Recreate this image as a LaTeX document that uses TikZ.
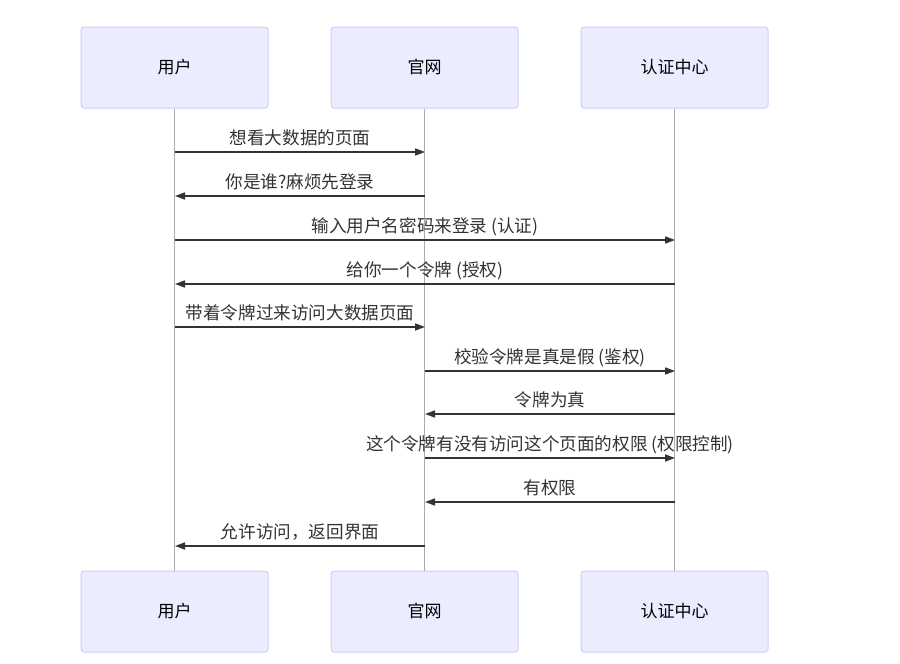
\documentclass[tikz,border=0pt]{standalone}
\usepackage{fontspec}
\setmainfont{Noto Sans CJK SC}
\usetikzlibrary{arrows.meta}
\definecolor{actfill}{HTML}{ECECFF}
\definecolor{actdraw}{HTML}{CCCCFF}
\definecolor{msgline}{HTML}{333333}
\definecolor{lifeline}{HTML}{AAAAAA}
\tikzset{
  actor/.style={draw=actdraw, fill=actfill, line width=1pt, rounded corners=3pt,
    minimum width=187pt, minimum height=81pt, inner sep=0pt, text height=14pt, text depth=3pt,
    font=\fontsize{17}{19}\selectfont, text=black},
  life/.style={draw=lifeline, line width=0.8pt},
  msg/.style={draw=msgline, line width=1.6pt, -{Triangle[length=10pt,width=7pt]}},
  lbl/.style={font=\fontsize{17.6}{19}\selectfont, text=msgline, anchor=base, inner sep=0pt}
}
\begin{document}
\begin{tikzpicture}[x=1pt,y=1pt]
\useasboundingbox (0,0) rectangle (900,-664);
% top actors
\node[actor] (u1) at (174.5,-67.5) {用户};
\node[actor] (g1) at (424.5,-67.5) {官网};
\node[actor] (a1) at (674.5,-67.5) {认证中心};
% bottom actors
\node[actor] (u2) at (174.5,-611.5) {用户};
\node[actor] (g2) at (424.5,-611.5) {官网};
\node[actor] (a2) at (674.5,-611.5) {认证中心};
% lifelines
\draw[life] (u1.south) -- (u2.north);
\draw[life] (g1.south) -- (g2.north);
\draw[life] (a1.south) -- (a2.north);
% message end coordinates
\foreach \n/\y in {1/152,2/196,3/240,4/284,5/327,6/371,7/414,8/458,9/502,10/546}{
  \coordinate (u\n) at (175,-\y);
  \coordinate (g\n) at (425,-\y);
  \coordinate (a\n) at (675,-\y);
}
\draw[msg] (u1) -- (g1) node[lbl, midway, yshift=8pt] {想看大数据的页面};
\draw[msg] (g2) -- (u2) node[lbl, midway, yshift=8pt] {你是谁?麻烦先登录};
\draw[msg] (u3) -- (a3) node[lbl, midway, yshift=8pt] {输入用户名密码来登录 (认证)};
\draw[msg] (a4) -- (u4) node[lbl, midway, yshift=8pt] {给你一个令牌 (授权)};
\draw[msg] (u5) -- (g5) node[lbl, midway, yshift=8pt] {带着令牌过来访问大数据页面};
\draw[msg] (g6) -- (a6) node[lbl, midway, yshift=8pt] {校验令牌是真是假 (鉴权)};
\draw[msg] (a7) -- (g7) node[lbl, midway, yshift=8pt] {令牌为真};
\draw[msg] (g8) -- (a8) node[lbl, midway, yshift=8pt] {这个令牌有没有访问这个页面的权限 (权限控制)};
\draw[msg] (a9) -- (g9) node[lbl, midway, yshift=8pt] {有权限};
\draw[msg] (g10) -- (u10) node[lbl, midway, yshift=8pt] {允许访问，返回界面};
\end{tikzpicture}
\end{document}
